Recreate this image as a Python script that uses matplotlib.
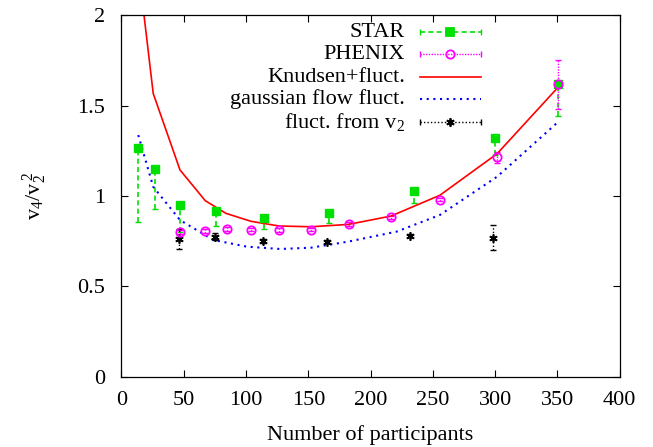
import numpy as np
import matplotlib.pyplot as plt
from matplotlib.lines import Line2D

plt.rcParams['font.family'] = ['Liberation Serif', 'DejaVu Serif']
plt.rcParams['mathtext.fontset'] = 'custom'
plt.rcParams['mathtext.rm'] = 'Liberation Serif'
plt.rcParams['mathtext.it'] = 'Liberation Serif'

# STAR (lower error only)
star_x = [13.5, 26.6, 47, 75.6, 114.6, 167, 234.5, 299.5, 350.5]
star_y = [1.267, 1.149, 0.952, 0.919, 0.880, 0.908, 1.029, 1.322, 1.62]
star_lo = [0.41, 0.223, 0.15, 0.083, 0.06, 0.056, 0.066, 0.095, 0.18]

# PHENIX
phenix_x = [47, 67.3, 84.4, 104, 126.7, 152.3, 182.3, 216.3, 255.6, 301.6, 350.5]
phenix_y = [0.80, 0.808, 0.816, 0.814, 0.812, 0.814, 0.844, 0.882, 0.980, 1.215, 1.617]
phenix_err = [0.01, 0.01, 0.01, 0.01, 0.01, 0.01, 0.01, 0.01, 0.01, 0.03, 0.135]

# Knudsen + fluct.
knud_x = [14, 25.5, 47, 67.3, 83.9, 104, 126.7, 152.3, 182.3, 216.3, 255.6, 301.6, 351.4]
knud_y = [2.24, 1.567, 1.144, 0.974, 0.904, 0.860, 0.834, 0.830, 0.843, 0.889, 1.004, 1.234, 1.608]

# gaussian flow fluct.
gaus_x = [13.5, 25.5, 47, 73.7, 100.5, 127.2, 152, 182.3, 220.9, 255.6, 301.6, 350.6]
gaus_y = [1.337, 1.051, 0.867, 0.757, 0.720, 0.707, 0.714, 0.748, 0.803, 0.895, 1.107, 1.41]

# fluct. from v2
fl_x = [45.9, 74.8, 113.8, 164.7, 231.8, 297.9]
fl_y = [0.762, 0.775, 0.751, 0.748, 0.781, 0.770]
fl_err = [0.055, 0.02, 0.01, 0.01, 0.01, 0.07]

green = '#00e000'
magenta = '#ff00ff'
red = '#ff0000'
blue = '#0000ff'
star_marker = (6, 2, 0)
fs = 16

fig = plt.figure(figsize=(6.53, 4.47), dpi=100)
ax = fig.add_axes([0.186, 0.157, 0.763, 0.809])

eb = ax.errorbar(star_x, star_y, yerr=[star_lo, np.zeros(len(star_lo))], fmt='none',
                 ecolor=green, elinewidth=1.2, capsize=2)
eb[2][0].set_linestyle((0, (3, 2)))
ax.plot(star_x, star_y, 's', color=green, markersize=6, zorder=3)

eb = ax.errorbar(phenix_x, phenix_y, yerr=phenix_err, fmt='none',
                 ecolor=magenta, elinewidth=1.0, capsize=2)
eb[2][0].set_linestyle((0, (1, 1)))
ax.plot(phenix_x, phenix_y, 'o', mfc='none', mec=magenta, mew=1.3, markersize=6, zorder=4)

ax.plot(knud_x, knud_y, '-', color=red, lw=1.2)
ax.plot(gaus_x, gaus_y, color=blue, lw=1.5, linestyle=(0, (1, 2.2)))

eb = ax.errorbar(fl_x, fl_y, yerr=fl_err, fmt='none', ecolor='black', elinewidth=1.0, capsize=2)
eb[2][0].set_linestyle((0, (1, 1.5)))
ax.plot(fl_x, fl_y, marker=star_marker, ls='none', color='black', markersize=6, mew=1.2, zorder=3)

ax.set_xlim(0, 400)
ax.set_ylim(0, 2)
ax.set_xticks(np.arange(0, 401, 50))
ax.set_yticks([0, 0.5, 1, 1.5, 2])
ax.set_yticklabels(['0', '0.5', '1', '1.5', '2'])
ax.tick_params(direction='in', length=5, width=0.8, top=True, right=True, labelsize=fs)
ax.tick_params(axis='x', pad=10)
ax.tick_params(axis='y', pad=12)
for s in ax.spines.values():
    s.set_linewidth(0.9)

ax.set_xlabel('Number of participants', fontsize=fs, labelpad=11)
ax.set_ylabel(r'v$_4$/v$_2^{\,2}$', fontsize=fs, labelpad=20)

# gnuplot-style legend: right-aligned text, sample to the right
labels = ['STAR', 'PHENIX', 'Knudsen+fluct.', 'gaussian flow fluct.', r'fluct. from v$_2$']
rows = [0.953, 0.892, 0.829, 0.768, 0.704]
x0, x1 = 0.599, 0.721
tx = 0.569
styles = [
    dict(color=green, ls=(0, (3, 2)), lw=1.2, marker='s', ms=6, mfc=green, caps=True),
    dict(color=magenta, ls=(0, (1, 1)), lw=1.0, marker='o', ms=6, mfc='none', caps=True),
    dict(color=red, ls='-', lw=1.2, marker=None, ms=0, mfc='none', caps=False),
    dict(color=blue, ls=(0, (1, 2.2)), lw=1.5, marker=None, ms=0, mfc='none', caps=False),
    dict(color='black', ls=(0, (1, 1.5)), lw=1.0, marker=star_marker, ms=6, mfc='black', caps=True),
]
for lab, yy, st in zip(labels, rows, styles):
    ax.text(tx, yy, lab, transform=ax.transAxes, ha='right', va='center', fontsize=fs)
    ax.add_line(Line2D([x0, x1], [yy, yy], transform=ax.transAxes, color=st['color'],
                       ls=st['ls'], lw=st['lw']))
    if st['caps']:
        ax.add_line(Line2D([x0, x1], [yy, yy], transform=ax.transAxes, ls='none',
                           marker='|', ms=5, color=st['color'], mew=1.0))
    if st['marker'] is not None:
        ax.add_line(Line2D([(x0 + x1) / 2], [yy], transform=ax.transAxes, ls='none',
                           marker=st['marker'], ms=st['ms'], mfc=st['mfc'],
                           mec=st['color'], mew=1.3))

fig.savefig('out.png', dpi=100)
